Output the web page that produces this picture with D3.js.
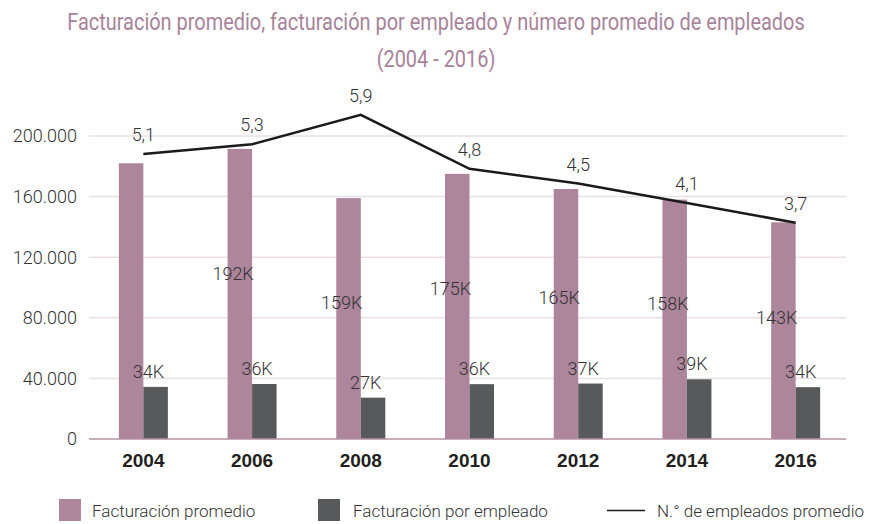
<!DOCTYPE html>
<html>
<head>
<meta charset="utf-8">
<script src="https://cdn.jsdelivr.net/npm/d3@7"></script>
<style>
  body { margin: 0; background: #fff; }
  svg { display: block; }
</style>
</head>
<body>
<div id="chart"></div>
<script>
// Data
const years = ["2004", "2006", "2008", "2010", "2012", "2014", "2016"];
const avgRevenue = [182000, 191500, 159000, 175000, 165000, 158000, 143000];
const avgRevenueLabels = ["", "192K", "159K", "175K", "165K", "158K", "143K"];
const revenuePerEmployee = [34400, 36300, 27300, 36200, 36600, 39400, 34200];
const employees = [5.1, 5.3, 5.9, 4.8, 4.5, 4.1, 3.7];
const yTicks = [0, 40000, 80000, 120000, 160000, 200000];

const width = 871;
const height = 524;
const purple = "#ad869c";
const grey = "#58595b";
const titleColor = "#a8839b";
const textColor = "#333333";
const bodyFont = "Roboto, 'Liberation Sans', sans-serif";

const locale = d3.formatLocale({ decimal: ",", thousands: ".", grouping: [3], currency: ["", ""] });
const fmtTick = locale.format(",.0f");
const fmtEmp = locale.format(".1f");

const svg = d3.select("#chart")
  .append("svg")
  .attr("width", width)
  .attr("height", height)
  .attr("viewBox", [0, 0, width, height]);

// Scales
const x = d3.scaleBand().domain(years).range([89, 850]);
const y = d3.scaleLinear().domain([0, 200000]).range([439, 136]);
// hidden secondary axis for the employees line
const y2 = d3.scaleLinear().domain([0, 6]).range([404, 110]);
const barW = 24.5;
const cx = (d) => x(d) + x.bandwidth() / 2;

// Title (condensed look: squeeze horizontally to the reference width)
const title = svg.append("text")
  .attr("text-anchor", "middle")
  .attr("fill", titleColor)
  .style("font-family", bodyFont)
  .style("font-size", "24px");
const t1 = title.append("tspan").attr("x", 0).attr("y", 30)
  .text("Facturación promedio, facturación por empleado y número promedio de empleados");
title.append("tspan").attr("x", 0).attr("y", 67).text("(2004 - 2016)");
const squeeze = 738 / t1.node().getComputedTextLength();
title.attr("transform", `translate(436,0) scale(${squeeze},1)`);

// Gridlines
svg.append("g")
  .selectAll("line")
  .data(yTicks.filter((d) => d > 0))
  .join("line")
  .attr("x1", 89)
  .attr("x2", 846)
  .attr("y1", (d) => y(d))
  .attr("y2", (d) => y(d))
  .attr("stroke", "#ebdfe6")
  .attr("stroke-width", 1.5);

// Y axis labels
svg.append("g")
  .selectAll("text")
  .data(yTicks)
  .join("text")
  .attr("x", 77)
  .attr("y", (d) => y(d))
  .attr("dy", "0.35em")
  .attr("text-anchor", "end")
  .attr("fill", textColor)
  .style("font-family", bodyFont)
  .style("font-weight", 300)
  .style("font-size", "18px")
  .text((d) => fmtTick(d));

// Bars
svg.append("g")
  .selectAll("rect")
  .data(years)
  .join("rect")
  .attr("x", (d) => cx(d) - barW)
  .attr("y", (d, i) => y(avgRevenue[i]))
  .attr("width", barW)
  .attr("height", (d, i) => y(0) - y(avgRevenue[i]))
  .attr("fill", purple);

svg.append("g")
  .selectAll("rect")
  .data(years)
  .join("rect")
  .attr("x", (d) => cx(d))
  .attr("y", (d, i) => y(revenuePerEmployee[i]))
  .attr("width", barW)
  .attr("height", (d, i) => y(0) - y(revenuePerEmployee[i]))
  .attr("fill", grey);

// Baseline
svg.append("line")
  .attr("x1", 89)
  .attr("x2", 846)
  .attr("y1", y(0))
  .attr("y2", y(0))
  .attr("stroke", "#b591a6")
  .attr("stroke-width", 1.5);

// Bar labels
const labelStyle = (sel) => sel
  .attr("text-anchor", "middle")
  .attr("fill", textColor)
  .style("font-family", bodyFont)
  .style("font-weight", 300)
  .style("font-size", "18px");

svg.append("g")
  .selectAll("text")
  .data(years)
  .join("text")
  .call(labelStyle)
  .attr("x", (d) => cx(d) - 19)
  .attr("y", (d, i) => y(avgRevenue[i] * 0.6 - 5500))
  .attr("dy", "0.35em")
  .text((d, i) => avgRevenueLabels[i]);

svg.append("g")
  .selectAll("text")
  .data(years)
  .join("text")
  .call(labelStyle)
  .attr("x", (d) => cx(d) + 5)
  .attr("y", (d, i) => y(revenuePerEmployee[i]) - 9)
  .text((d, i) => Math.round(revenuePerEmployee[i] / 1000) + "K");

// Employees line
const line = d3.line()
  .x((d) => cx(d))
  .y((d, i) => y2(employees[i]));

svg.append("path")
  .datum(years)
  .attr("d", line)
  .attr("fill", "none")
  .attr("stroke", "#1a1a1a")
  .attr("stroke-width", 2.5);

svg.append("g")
  .selectAll("text")
  .data(years)
  .join("text")
  .call(labelStyle)
  .attr("x", (d) => cx(d))
  .attr("y", (d, i) => y2(employees[i]) - 13)
  .text((d, i) => fmtEmp(employees[i]));

// X axis labels
svg.append("g")
  .selectAll("text")
  .data(years)
  .join("text")
  .attr("x", (d) => cx(d))
  .attr("y", 467)
  .attr("text-anchor", "middle")
  .attr("fill", "#231f20")
  .style("font-family", "'Liberation Sans', Arial, sans-serif")
  .style("font-weight", 700)
  .style("font-size", "19px")
  .text((d) => d);

// Legend
const legend = svg.append("g").style("font-family", bodyFont).style("font-weight", 300).style("font-size", "17px");
legend.append("rect").attr("x", 59).attr("y", 499).attr("width", 22).attr("height", 22).attr("fill", purple);
legend.append("text").attr("x", 92).attr("y", 517).attr("fill", textColor).text("Facturación promedio");
legend.append("rect").attr("x", 318).attr("y", 499).attr("width", 22).attr("height", 22).attr("fill", grey);
legend.append("text").attr("x", 353).attr("y", 517).attr("fill", textColor).text("Facturación por empleado");
legend.append("line").attr("x1", 607).attr("x2", 645).attr("y1", 510.5).attr("y2", 510.5)
  .attr("stroke", "#1a1a1a").attr("stroke-width", 1.5);
legend.append("text").attr("x", 657).attr("y", 517).attr("fill", textColor).text("N.° de empleados promedio");
</script>
</body>
</html>
